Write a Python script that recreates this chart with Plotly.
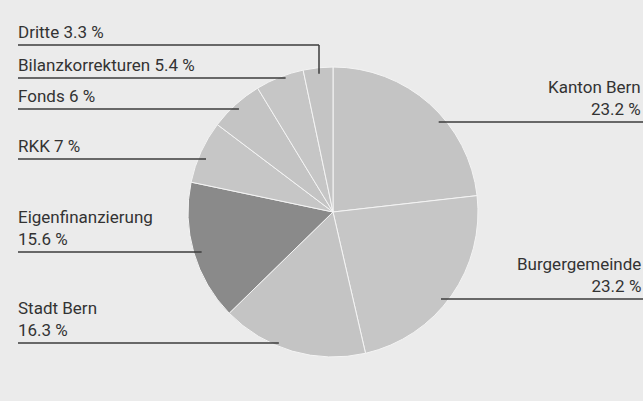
import math
import plotly.graph_objects as go

labels = ["Kanton Bern", "Burgergemeinde", "Stadt Bern", "Eigenfinanzierung",
          "RKK", "Fonds", "Bilanzkorrekturen", "Dritte"]
values = [23.2, 23.2, 16.3, 15.6, 7.0, 6.0, 5.4, 3.3]
label_texts = ["Kanton Bern<br>23.2 %", "Burgergemeinde<br>23.2 %", "Stadt Bern<br>16.3 %",
               "Eigenfinanzierung<br>15.6 %", "RKK 7 %", "Fonds 6 %",
               "Bilanzkorrekturen 5.4 %", "Dritte 3.3 %"]
colors = ["#c4c4c4", "#c6c6c6", "#c4c4c4", "#8a8a8a", "#c6c6c6", "#c4c4c4", "#c6c6c6", "#c4c4c4"]

W, H = 643, 401
cx, cy, R = 333, 212, 145
BG = "#ebebeb"

fig = go.Figure(go.Pie(
    labels=labels, values=values, sort=False, direction="clockwise", rotation=0,
    marker=dict(colors=colors, line=dict(color="#f4f4f4", width=1)),
    textinfo="none", hoverinfo="label+percent", showlegend=False,
    domain=dict(x=[(cx - R) / W, (cx + R) / W], y=[(H - cy - R) / H, (H - cy + R) / H]),
))

# label layout: (side, line y in px)
layout_info = {
    "Kanton Bern": ("right", 122),
    "Burgergemeinde": ("right", 299),
    "Stadt Bern": ("left", 343),
    "Eigenfinanzierung": ("left", 252),
    "RKK": ("left", 159),
    "Fonds": ("left", 109),
    "Bilanzkorrekturen": ("left", 78),
    "Dritte": ("left", 45),
}

def px(x):
    return x / W

def py(y):
    return 1 - y / H

shapes = []
annotations = []
line_col = "#3c3c3c"
for lab, txt in zip(labels, label_texts):
    side, ly = layout_info[lab]
    dy = ly - cy
    dx = math.sqrt(max(R * R - dy * dy, 0)) - 8
    if lab == "Dritte":
        vx = cx - 14
        shapes.append(dict(type="line", xref="paper", yref="paper", x0=px(18), x1=px(vx),
                           y0=py(ly), y1=py(ly), line=dict(color=line_col, width=1.5)))
        shapes.append(dict(type="line", xref="paper", yref="paper", x0=px(vx), x1=px(vx),
                           y0=py(ly), y1=py(cy - math.sqrt(R * R - 14 * 14) + 6),
                           line=dict(color=line_col, width=1.5)))
    elif side == "left":
        shapes.append(dict(type="line", xref="paper", yref="paper", x0=px(18), x1=px(cx - dx),
                           y0=py(ly), y1=py(ly), line=dict(color=line_col, width=1.5)))
    else:
        shapes.append(dict(type="line", xref="paper", yref="paper", x0=px(cx + dx), x1=1,
                           y0=py(ly), y1=py(ly), line=dict(color=line_col, width=1.5)))
    if side == "left":
        annotations.append(dict(xref="paper", yref="paper", x=px(16), y=py(ly - 1),
                                xanchor="left", yanchor="bottom", align="left", text=txt,
                                showarrow=False, font=dict(size=17, color="#333333")))
    else:
        annotations.append(dict(xref="paper", yref="paper", x=px(643), y=py(ly - 1),
                                xanchor="right", yanchor="bottom", align="right", text=txt,
                                showarrow=False, font=dict(size=17, color="#333333")))

fig.update_layout(
    width=W, height=H, margin=dict(l=0, r=0, t=0, b=0),
    paper_bgcolor=BG, plot_bgcolor=BG,
    font=dict(family="Roboto, DejaVu Sans, sans-serif"),
    shapes=shapes, annotations=annotations,
)

fig.write_html("out.html", config={"displayModeBar": False},
               post_script="document.body.style.margin='0';document.body.style.overflow='hidden';")
